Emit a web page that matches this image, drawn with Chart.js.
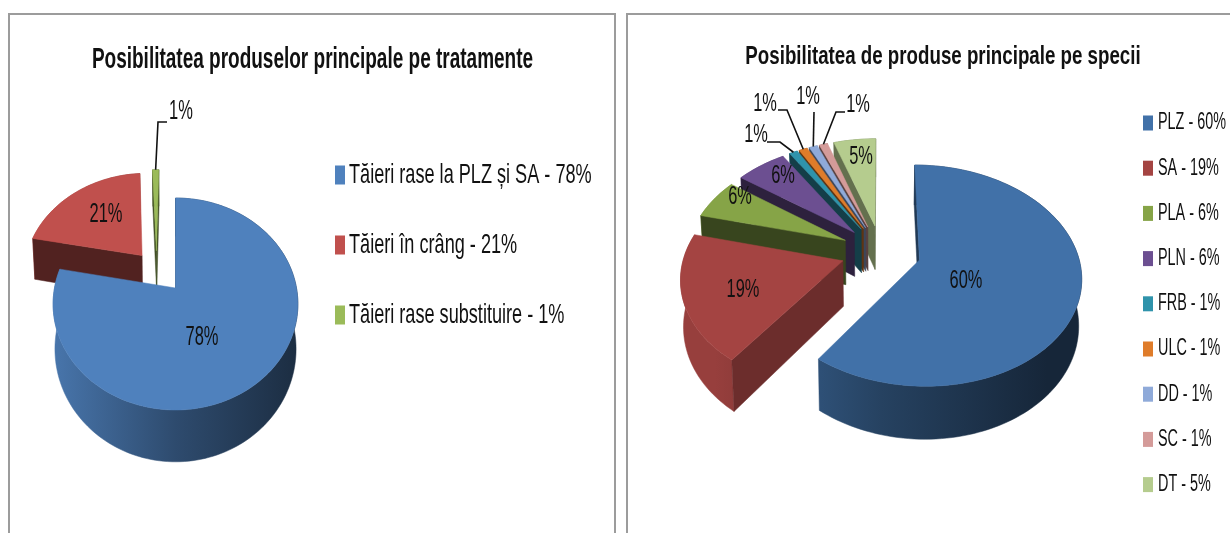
<!DOCTYPE html>
<html>
<head>
<meta charset="utf-8">
<script src="https://cdn.jsdelivr.net/npm/chart.js@4"></script>
<style>
html,body{margin:0;padding:0;background:#fff;width:1230px;height:533px;overflow:hidden}
.frame{position:absolute;top:13px;height:530px;box-sizing:border-box;border:2px solid #9c9c9c;border-bottom:none;background:#fff}
canvas{position:absolute;top:0;filter:blur(0.5px)}
</style>
</head>
<body>
<div class="frame" style="left:8px;width:608px"></div>
<div class="frame" style="left:626px;width:620px"></div>
<canvas id="a" width="620" height="533" style="left:0"></canvas>
<canvas id="b" width="610" height="533" style="left:620px"></canvas>
<script>
const FONT = '"Liberation Sans",sans-serif';

const titleA = 'Posibilitatea produselor principale pe tratamente';
const categoriesA = ['Tăieri rase la PLZ și SA - 78%', 'Tăieri în crâng - 21%', 'Tăieri rase substituire - 1%'];
const valuesA = [78, 21, 1];
const percentLabelsA = ['78%', '21%', '1%'];
const colorsA = ['#4F81BD', '#C0504D', '#9BBB59'];

const titleB = 'Posibilitatea de produse principale pe specii';
const categoriesB = ['PLZ - 60%', 'SA - 19%', 'PLA - 6%', 'PLN - 6%', 'FRB - 1%', 'ULC - 1%', 'DD - 1%', 'SC - 1%', 'DT - 5%'];
const valuesB = [60, 19, 6, 6, 1, 1, 1, 1, 5];
const percentLabelsB = ['60%', '19%', '6%', '6%', '1%', '1%', '1%', '1%', '5%'];
const colorsB = ['#4171A8', '#A44442', '#86A447', '#6C4F91', '#2F93AB', '#DF7C2A', '#8FAAD9', '#D49B99', '#B5CC8E'];

function shade(hex, f) {
  const n = parseInt(hex.slice(1), 16);
  const c = s => Math.round(((n >> s) & 255) * f);
  return `rgb(${c(16)},${c(8)},${c(0)})`;
}

function squeezedText(ctx, t, x, y, sx) {
  ctx.save();
  ctx.translate(x, y);
  ctx.scale(sx, 1);
  ctx.fillText(t, 0, 0);
  ctx.restore();
}

const pie3d = {
  id: 'pie3d',
  beforeDatasetsDraw(chart, args, o) {
    const ctx = chart.ctx;
    const meta = chart.getDatasetMeta(0);
    const els = meta.data.map((el, i) => {
      const p = el.getProps(['x', 'y', 'startAngle', 'endAngle', 'outerRadius'], true);
      const mid = (p.startAngle + p.endAngle) / 2;
      const off = (el.options.offset || 0) / p.outerRadius;
      return { i, p, mid, ou: off * Math.cos(mid) + ((o.shiftU || [])[i] || 0), ov: off * Math.sin(mid) };
    });
    const R = els[0].p.outerRadius, cx = els[0].p.x, cy = els[0].p.y;
    const project = (u, v, d) => {
      const w = 1 - o.k * v;
      return [cx + R * u / w * (d ? 0.985 : 1), cy + (R * o.tilt * v + (d ? o.depth : 0)) / w];
    };
    const poly = (pts, fill) => {
      ctx.beginPath();
      pts.forEach((q, n) => n ? ctx.lineTo(q[0], q[1]) : ctx.moveTo(q[0], q[1]));
      ctx.closePath();
      ctx.fillStyle = fill;
      ctx.strokeStyle = fill;
      ctx.lineWidth = 0.5;
      ctx.fill();
      ctx.stroke();
    };
    const order = els.slice().sort((a, b) => Math.sin(a.mid) + a.ov - Math.sin(b.mid) - b.ov);
    order.forEach(s => {
      const base = chart.data.datasets[0].backgroundColor[s.i];
      const n = Math.max(2, Math.ceil((s.p.endAngle - s.p.startAngle) / 0.03));
      const top = [], bot = [];
      for (let t = 0; t <= n; t++) {
        const a = s.p.startAngle + (s.p.endAngle - s.p.startAngle) * t / n;
        const u = s.ou + Math.cos(a), v = s.ov + Math.sin(a);
        top.push(project(u, v, false));
        bot.push(project(u, v, true));
      }
      const at = project(s.ou, s.ov, false), ab = project(s.ou, s.ov, true);
      const side = shade(base, o.sideShade[s.i]);
      const g = ctx.createLinearGradient(cx - R * 1.05, 0, cx + R * 1.05, 0);
      g.addColorStop(0, shade(base, 0.92));
      g.addColorStop(0.5, shade(base, 0.58));
      g.addColorStop(1, shade(base, 0.34));
      poly(top.concat(bot.slice().reverse()), g);
      // a cut face is only seen when it turns towards the viewer
      if (-Math.cos(s.p.startAngle) >= -1e-6) poly([at, top[0], bot[0], ab], side);
      if (Math.cos(s.p.endAngle) >= -1e-6) poly([at, top[n], bot[n], ab], side);
      poly([at].concat(top), base);
    });

    // percentage labels and leader lines
    ctx.fillStyle = '#111';
    ctx.font = o.labelFont;
    ctx.textAlign = 'center';
    ctx.textBaseline = 'middle';
    o.labels.forEach((t, i) => {
      squeezedText(ctx, t, o.labelAt[i][0], o.labelAt[i][1], o.labelSx);
    });
    ctx.strokeStyle = '#111';
    ctx.lineWidth = 1.6;
    Object.keys(o.leaders).forEach(k => {
      const s = els[+k];
      const end = project(s.ou + Math.cos(s.mid), s.ov + Math.sin(s.mid), false);
      const pts = o.leaders[k].concat([end]);
      ctx.beginPath();
      pts.forEach((q, n) => n ? ctx.lineTo(q[0], q[1]) : ctx.moveTo(q[0], q[1]));
      ctx.stroke();
    });

    // legend
    ctx.textAlign = 'left';
    ctx.font = o.legendFont;
    chart.data.labels.forEach((t, i) => {
      const y = o.legendY + i * o.legendStep;
      ctx.fillStyle = chart.data.datasets[0].backgroundColor[i];
      ctx.fillRect(o.legendX, y - o.boxH / 2, o.boxW, o.boxH);
      ctx.fillStyle = '#111';
      squeezedText(ctx, t, o.legendX + o.boxW + o.boxGap, y, o.legendSx);
    });
    return false;
  },
  afterLayout(chart, args, o) {
    const tb = chart.titleBlock;
    tb.left = o.titleX - 600;
    tb.right = o.titleX + 600;
    if (!tb._squeezed) {
      tb._squeezed = true;
      const draw = tb.draw.bind(tb);
      tb.draw = () => {
        const ctx = chart.ctx;
        ctx.save();
        ctx.translate(o.titleX, 0);
        ctx.scale(o.titleSx, 1);
        ctx.translate(-o.titleX, 0);
        draw();
        ctx.restore();
      };
    }
  }
};

function make(id, labels, values, colors, offsets, radius, padding, title, titleFont, titleTop, opts) {
  return new Chart(document.getElementById(id), {
    type: 'pie',
    data: { labels, datasets: [{ data: values, backgroundColor: colors, offset: offsets, borderWidth: 0 }] },
    plugins: [pie3d],
    options: {
      responsive: false,
      animation: false,
      radius,
      layout: { padding },
      plugins: {
        legend: { display: false },
        tooltip: { enabled: false },
        title: {
          display: true, text: title, color: '#111',
          font: { family: FONT, size: titleFont, weight: 'bold', lineHeight: 1.2 },
          padding: { top: titleTop, bottom: 0 }
        },
        pie3d: opts
      }
    }
  });
}

make('a', categoriesA, valuesA, colorsA, [0, 53, 46], 121,
  { left: 0, right: 269, top: 0, bottom: 34.4 }, titleA, 29, 42.6, {
    tilt: 0.856, k: 0.151, depth: 44, sideShade: [0.42, 0.42, 0.42], shiftU: [0, 0, -0.155],
    titleX: 312.5, titleSx: 0.655,
    labels: percentLabelsA,
    labelAt: [[202, 338], [106, 215], [181, 112]], labelSx: 0.61,
    leaders: { 2: [[167, 122], [158, 122]] },
    labelFont: '27px ' + FONT,
    legendFont: '28px ' + FONT, legendSx: 0.647,
    legendX: 335, legendY: 175, legendStep: 70, boxW: 10, boxH: 19, boxGap: 4
  });

make('b', categoriesB, valuesB, colorsB, [40, 40, 40, 40, 40, 40, 40, 40, 40], 158,
  { left: 0, right: 88, top: 0, bottom: 102.4 }, titleB, 26, 41.4, {
    tilt: 0.671, k: 0.14, depth: 45, sideShade: [0.5, 0.66, 0.42, 0.42, 0.42, 0.42, 0.42, 0.42, 0.55],
    titleX: 323, titleSx: 0.72,
    labels: percentLabelsB,
    labelAt: [[346, 281], [123, 290], [120, 197], [163, 176], [136, 135], [145, 104], [188, 97], [238, 105], [241, 157]], labelSx: 0.655,
    leaders: {
      4: [[147, 142], [160, 142]],
      5: [[158, 110], [167, 110]],
      6: [[194, 112]],
      7: [[225, 112], [216, 112]]
    },
    labelFont: '25px ' + FONT,
    legendFont: '23px ' + FONT, legendSx: 0.626,
    legendX: 523, legendY: 123, legendStep: 45.2, boxW: 10, boxH: 15, boxGap: 5
  });
</script>
</body>
</html>
